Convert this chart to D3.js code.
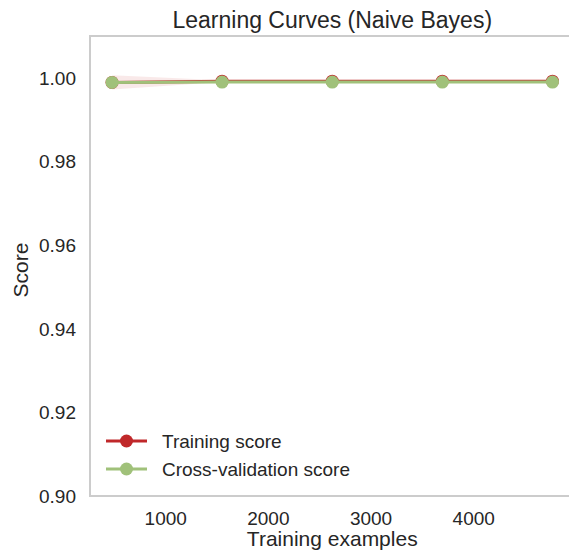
<!DOCTYPE html>
<html>
<head>
<meta charset="utf-8">
<script src="https://cdn.jsdelivr.net/npm/d3@7"></script>
<style>
  body { margin: 0; background: #fff; }
  text { font-family: "Liberation Sans", Arial, sans-serif; fill: #262626; }
</style>
</head>
<body>
<svg id="chart" width="569" height="557"></svg>
<script>
const trainSizes = [477, 1549, 2622, 3694, 4767];
const trainMean = [0.9989, 0.9992, 0.9992, 0.9992, 0.9992];
const trainStd = [0.0017, 0.0002, 0.0001, 0.0001, 0.0001];
const cvMean = [0.9989, 0.99898, 0.99898, 0.99898, 0.99898];
const cvStd = [0.0004, 0.0002, 0.0002, 0.0002, 0.0002];
const xTicks = [1000, 2000, 3000, 4000];
const yTicks = [0.90, 0.92, 0.94, 0.96, 0.98, 1.00];
const seriesNames = ['Training score', 'Cross-validation score'];

const red = '#c0282a';
const green = '#a0c17a';

const svg = d3.select('#chart');

const mLeft = 90, mTop = 36, mBottom = 496, plotW = 484.5;
const span = d3.max(trainSizes) - d3.min(trainSizes);
const x = d3.scaleLinear()
  .domain([d3.min(trainSizes) - 0.05 * span, d3.max(trainSizes) + 0.05 * span])
  .range([mLeft, mLeft + plotW]);
const y = d3.scaleLinear().domain([0.90, 1.01]).range([mBottom, mTop]);

const series = [
  { name: seriesNames[0], mean: trainMean, std: trainStd, color: red },
  { name: seriesNames[1], mean: cvMean, std: cvStd, color: green }
];

// bands
const area = d3.area()
  .x(d => x(d.n))
  .y0(d => y(d.m - d.s))
  .y1(d => y(d.m + d.s));
series.forEach(s => {
  const pts = trainSizes.map((n, i) => ({ n, m: s.mean[i], s: s.std[i] }));
  svg.append('path')
    .attr('d', area(pts))
    .attr('fill', s.color)
    .attr('fill-opacity', 0.1);
});

const line = d3.line().x(d => x(d.n)).y(d => y(d.m));
series.forEach(s => {
  const pts = trainSizes.map((n, i) => ({ n, m: s.mean[i] }));
  svg.append('path')
    .attr('d', line(pts))
    .attr('fill', 'none')
    .attr('stroke', s.color)
    .attr('stroke-width', 3);
  svg.selectAll(null)
    .data(pts)
    .enter()
    .append('circle')
    .attr('cx', d => x(d.n))
    .attr('cy', d => y(d.m))
    .attr('r', 6.5)
    .attr('fill', s.color);
});

// spines (left, top, bottom)
svg.append('path')
  .attr('d', `M${mLeft + plotW},${mTop}H${mLeft}V${mBottom}H${mLeft + plotW}`)
  .attr('fill', 'none')
  .attr('stroke', '#cccccc')
  .attr('stroke-width', 2);

// ticks
svg.selectAll('.xt')
  .data(xTicks)
  .enter()
  .append('text')
  .attr('x', d => x(d))
  .attr('y', 525)
  .attr('text-anchor', 'middle')
  .style('font-size', '19px')
  .text(d => d);

svg.selectAll('.yt')
  .data(yTicks)
  .enter()
  .append('text')
  .attr('x', 76)
  .attr('y', d => y(d) + 7)
  .attr('text-anchor', 'end')
  .style('font-size', '19px')
  .text(d => d.toFixed(2));

// labels
const cx = mLeft + plotW / 2;
svg.append('text')
  .attr('x', cx).attr('y', 28)
  .attr('text-anchor', 'middle')
  .style('font-size', '23px')
  .text('Learning Curves (Naive Bayes)');

svg.append('text')
  .attr('x', cx).attr('y', 546)
  .attr('text-anchor', 'middle')
  .style('font-size', '21px')
  .text('Training examples');

svg.append('text')
  .attr('transform', `translate(28,${(mTop + mBottom) / 2 + 4}) rotate(-90)`)
  .attr('text-anchor', 'middle')
  .style('font-size', '21px')
  .text('Score');

// legend
const legend = svg.append('g');
series.forEach((s, i) => {
  const ly = 441 + i * 28;
  legend.append('line')
    .attr('x1', 106).attr('x2', 147)
    .attr('y1', ly).attr('y2', ly)
    .attr('stroke', s.color).attr('stroke-width', 3);
  legend.append('circle')
    .attr('cx', 126.5).attr('cy', ly).attr('r', 6.5)
    .attr('fill', s.color);
  legend.append('text')
    .attr('x', 162).attr('y', ly + 7)
    .style('font-size', '19px')
    .text(s.name);
});
</script>
</body>
</html>
